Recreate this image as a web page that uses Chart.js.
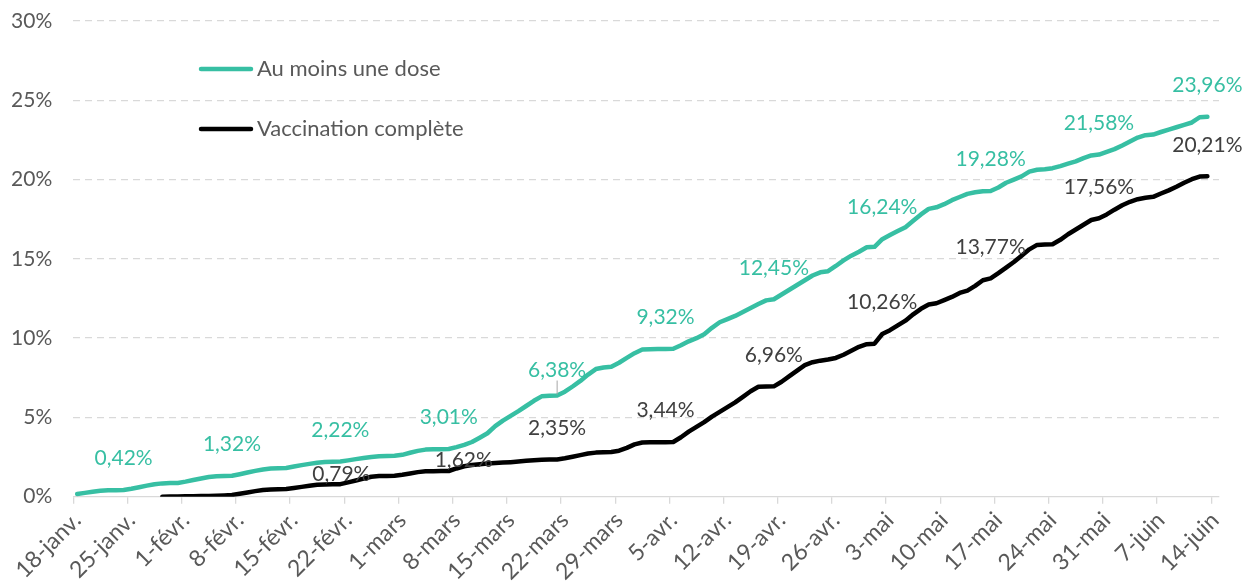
<!DOCTYPE html>
<html lang="fr">
<head>
<meta charset="utf-8">
<title>Vaccination</title>
<script src="https://cdn.jsdelivr.net/npm/chart.js@4.4.0/dist/chart.umd.min.js"></script>
<style>
  html, body { margin: 0; padding: 0; background: #fff; }
  #wrap { width: 1252px; height: 585px; position: relative; }
</style>
</head>
<body>
<div id="wrap"><canvas id="vaccChart"></canvas></div>
<script>
// Weekly tick labels (every Monday, 18-janv. -> 14-juin)
const weekLabels = ['18-janv.', '25-janv.', '1-févr.', '8-févr.', '15-févr.', '22-févr.', '1-mars',
  '8-mars', '15-mars', '22-mars', '29-mars', '5-avr.', '12-avr.', '19-avr.', '26-avr.', '3-mai',
  '10-mai', '17-mai', '24-mai', '31-mai', '7-juin', '14-juin'];

const seriesNames = ['Au moins une dose', 'Vaccination complète'];
const yTicks = [0, 5, 10, 15, 20, 25, 30];

// daily cumulative share (%), one value per day from 18-janv.
const auMoinsUneDose = [
  0.17, 0.24, 0.31, 0.37, 0.40, 0.41, 0.42,
  0.50, 0.60, 0.70, 0.79, 0.84, 0.86, 0.87,
  0.95, 1.05, 1.15, 1.24, 1.29, 1.31, 1.32,
  1.42, 1.53, 1.63, 1.72, 1.78, 1.80, 1.81,
  1.90, 1.99, 2.07, 2.14, 2.19, 2.21, 2.22,
  2.29, 2.37, 2.44, 2.51, 2.55, 2.57, 2.58,
  2.64, 2.77, 2.89, 2.97, 2.99, 3.00, 3.01,
  3.13, 3.27, 3.45, 3.72, 4.00, 4.45, 4.80,
  5.10, 5.40, 5.72, 6.05, 6.33, 6.36, 6.38,
  6.62, 6.95, 7.30, 7.70, 8.05, 8.15, 8.20,
  8.45, 8.75, 9.05, 9.28, 9.30, 9.31, 9.32,
  9.33, 9.55, 9.80, 10.00, 10.25, 10.65, 11.00,
  11.20, 11.40, 11.65, 11.90, 12.15, 12.38, 12.45,
  12.75, 13.05, 13.35, 13.65, 13.95, 14.15, 14.22,
  14.55, 14.90, 15.20, 15.45, 15.73, 15.76, 16.24,
  16.50, 16.75, 17.00, 17.40, 17.80, 18.15, 18.25,
  18.45, 18.70, 18.90, 19.10, 19.20, 19.26, 19.28,
  19.50, 19.80, 20.00, 20.20, 20.50, 20.62, 20.65,
  20.72, 20.85, 21.00, 21.15, 21.35, 21.52, 21.58,
  21.75, 21.92, 22.15, 22.40, 22.65, 22.80, 22.84,
  23.00, 23.15, 23.30, 23.45, 23.60, 23.93, 23.96
];

const vaccinationComplete = [
  null, null, null, null, null, null, null,
  null, null, null, null, 0.00, 0.01, 0.02,
  0.03, 0.03, 0.04, 0.05, 0.06, 0.08, 0.11,
  0.19, 0.27, 0.35, 0.42, 0.45, 0.47, 0.48,
  0.55, 0.62, 0.69, 0.75, 0.77, 0.78, 0.79,
  0.90, 1.02, 1.14, 1.26, 1.30, 1.31, 1.32,
  1.38, 1.46, 1.55, 1.60, 1.61, 1.62, 1.62,
  1.78, 1.92, 2.00, 2.05, 2.10, 2.13, 2.15,
  2.18, 2.22, 2.26, 2.30, 2.33, 2.34, 2.35,
  2.42, 2.52, 2.62, 2.72, 2.78, 2.80, 2.82,
  2.90, 3.08, 3.30, 3.42, 3.43, 3.44, 3.44,
  3.45, 3.75, 4.10, 4.40, 4.70, 5.05, 5.35,
  5.65, 5.95, 6.30, 6.65, 6.93, 6.95, 6.96,
  7.25, 7.60, 7.95, 8.30, 8.48, 8.58, 8.65,
  8.75, 8.95, 9.20, 9.45, 9.62, 9.65, 10.26,
  10.50, 10.80, 11.10, 11.50, 11.85, 12.12, 12.20,
  12.40, 12.60, 12.85, 13.00, 13.30, 13.65, 13.77,
  14.10, 14.45, 14.80, 15.20, 15.60, 15.88, 15.90,
  15.92, 16.20, 16.55, 16.85, 17.15, 17.45, 17.56,
  17.80, 18.10, 18.38, 18.60, 18.76, 18.85, 18.91,
  19.12, 19.32, 19.55, 19.80, 20.02, 20.19, 20.21
];

// days (index from 18-janv.) that carry a value label
const greenLabelDays = [6, 20, 34, 48, 62, 76, 90, 104, 118, 132, 146];
const blackLabelDays = [34, 48, 62, 76, 90, 104, 118, 132, 146];

const GREEN = '#37BFA3';
const BLACK = '#000000';
const GREY_TXT = '#595959';
const FONT = 'Lato, "Open Sans", sans-serif';

// one category per day, 18-janv. .. 14-juin
const dayCount = weekLabels.length * 7 - 6;
const days = Array.from({ length: dayCount }, (_, i) => i);

// label nudges (px) where the label was moved off its default place
const labelNudge = {
  '1:34': { dx: 1, dy: -10 },
  '1:48': { dx: 15, dy: -10.5 },
  '0:62': { dx: 0, dy: -25, leader: true }
};

const fmt = v => v.toFixed(2).replace('.', ',') + '%';

const valueLabels = {
  id: 'valueLabels',
  afterDatasetsDraw(chart) {
    const ctx = chart.ctx;
    ctx.save();
    ctx.font = '21px ' + FONT;
    ctx.textAlign = 'center';
    ctx.textBaseline = 'middle';
    [greenLabelDays, blackLabelDays].forEach((list, ds) => {
      const meta = chart.getDatasetMeta(ds);
      const data = chart.data.datasets[ds].data;
      list.forEach(day => {
        const pt = meta.data[day];
        const n = labelNudge[ds + ':' + day] || { dx: 0, dy: -31.5 };
        const x = pt.x + n.dx, y = pt.y + n.dy;
        if (n.leader) {
          ctx.strokeStyle = '#A6A6A6';
          ctx.lineWidth = 1;
          ctx.beginPath();
          ctx.moveTo(pt.x, y + 10);
          ctx.lineTo(pt.x, pt.y - 1);
          ctx.stroke();
        }
        ctx.fillStyle = ds === 0 ? GREEN : '#404040';
        ctx.fillText(fmt(data[day]), x, y);
      });
    });
    ctx.restore();
  }
};

// legend drawn inside the plot, top-left
const insideLegend = {
  id: 'insideLegend',
  afterDraw(chart) {
    const ctx = chart.ctx;
    ctx.save();
    ctx.font = '22px ' + FONT;
    ctx.textBaseline = 'middle';
    ctx.lineCap = 'round';
    const rows = [69, 129];
    chart.data.datasets.forEach((ds, i) => {
      ctx.strokeStyle = ds.borderColor;
      ctx.lineWidth = 4.5;
      ctx.beginPath();
      ctx.moveTo(201, rows[i]);
      ctx.lineTo(251, rows[i]);
      ctx.stroke();
      ctx.fillStyle = GREY_TXT;
      ctx.fillText(ds.label, 257, rows[i]);
    });
    ctx.restore();
  }
};

new Chart(document.getElementById('vaccChart'), {
  type: 'line',
  data: {
    labels: days,
    datasets: [
      { label: seriesNames[0], data: auMoinsUneDose, borderColor: GREEN, backgroundColor: GREEN },
      { label: seriesNames[1], data: vaccinationComplete, borderColor: BLACK, backgroundColor: BLACK }
    ]
  },
  options: {
    responsive: true,
    maintainAspectRatio: false,
    animation: false,
    devicePixelRatio: 1,
    layout: { padding: { top: 21, right: 33, left: 0, bottom: 0 } },
    elements: {
      point: { radius: 0 },
      line: { borderWidth: 4.5, tension: 0, borderJoinStyle: 'round', borderCapStyle: 'round' }
    },
    plugins: {
      legend: { display: false },
      tooltip: { enabled: false }
    },
    scales: {
      x: {
        type: 'category',
        offset: true,
        afterFit: s => { s.height = 88.3; },
        border: { display: true, color: '#D9D9D9', width: 1.3 },
        grid: {
          offset: true,
          drawOnChartArea: false,
          drawTicks: true,
          tickLength: 7,
          lineWidth: 1.3,
          color: c => (c.index % 7 === 0 ? '#D9D9D9' : 'rgba(0,0,0,0)')
        },
        ticks: {
          autoSkip: false,
          maxRotation: 45,
          minRotation: 45,
          padding: 3,
          color: GREY_TXT,
          font: { family: FONT, size: 23 },
          callback: (v, i) => (i % 7 === 0 ? weekLabels[i / 7] : '')
        }
      },
      y: {
        min: yTicks[0],
        max: yTicks[yTicks.length - 1],
        afterFit: s => { s.width = 73.3; s.paddingTop = 0; s.paddingBottom = 0; },
        afterBuildTicks: s => { s.ticks = yTicks.map(v => ({ value: v })); },
        border: { display: false, dash: [7, 5] },
        grid: {
          drawTicks: false,
          lineWidth: 1.3,
          color: c => (c.tick && c.tick.value === 0 ? 'rgba(0,0,0,0)' : '#D9D9D9')
        },
        ticks: {
          padding: 21,
          color: GREY_TXT,
          font: { family: FONT, size: 21 },
          callback: v => v + '%'
        }
      }
    }
  },
  plugins: [valueLabels, insideLegend]
});
</script>
</body>
</html>
